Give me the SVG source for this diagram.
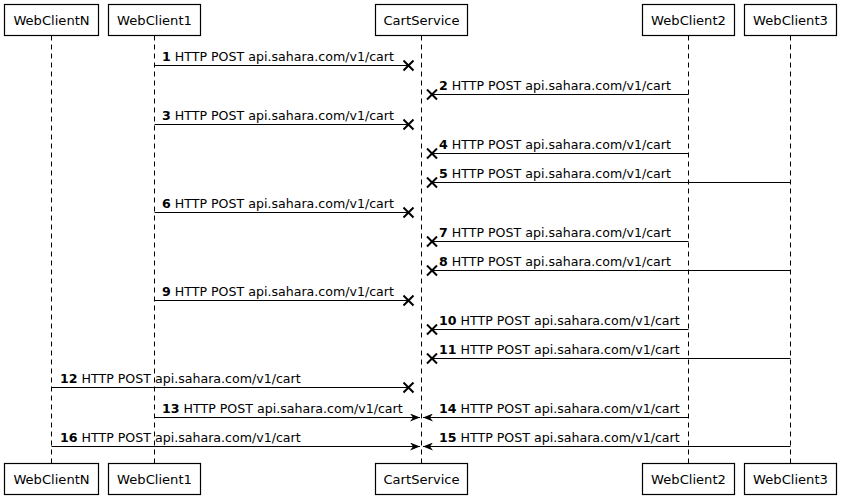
<svg xmlns="http://www.w3.org/2000/svg" width="841" height="500" viewBox="0 0 841 500">
<style>
  .box{fill:#fff;stroke:#000;stroke-width:1.2}
  .life{stroke:#000;stroke-width:1;stroke-dasharray:5,4;fill:none}
  .pname{font-family:"DejaVu Sans","Liberation Sans",sans-serif;font-size:13.1px;fill:#000;text-anchor:middle}
  .msg{stroke:#000;stroke-width:1;fill:none}
  .lost{marker-end:url(#xm)}
  .arr{marker-end:url(#ah)}
  .lbl{font-family:"DejaVu Sans","Liberation Sans",sans-serif;font-size:12.6px;fill:#000}
  .num{font-weight:bold}
</style>
<defs>
  <marker id="xm" markerUnits="userSpaceOnUse" viewBox="-6 -6 12 12" refX="0" refY="0" markerWidth="12" markerHeight="12" orient="auto">
    <path d="M-5,-5 L5,5 M-5,5 L5,-5" stroke="#000" stroke-width="2" fill="none"/>
  </marker>
  <marker id="ah" markerUnits="userSpaceOnUse" viewBox="0 0 10 8" refX="10" refY="4" markerWidth="10" markerHeight="8" orient="auto">
    <path d="M0,0 L10,4 L0,8 L3,4 Z" fill="#000"/>
  </marker>
</defs>
<rect width="841" height="500" fill="#fff"/>

<g id="WebClientN">
  <line class="life" x1="51.5" y1="35.5" x2="51.5" y2="463.5"/>
  <rect class="box" x="4.5" y="4.5" width="94" height="31"/>
  <text class="pname" x="51.5" y="25">WebClientN</text>
  <rect class="box" x="4.5" y="463.5" width="94" height="31"/>
  <text class="pname" x="51.5" y="484">WebClientN</text>
</g>
<g id="WebClient1">
  <line class="life" x1="154.5" y1="35.5" x2="154.5" y2="463.5"/>
  <rect class="box" x="108.5" y="4.5" width="92" height="31"/>
  <text class="pname" x="154.5" y="25">WebClient1</text>
  <rect class="box" x="108.5" y="463.5" width="92" height="31"/>
  <text class="pname" x="154.5" y="484">WebClient1</text>
</g>
<g id="CartService">
  <line class="life" x1="421.5" y1="35.5" x2="421.5" y2="463.5"/>
  <rect class="box" x="375.5" y="4.5" width="92" height="31"/>
  <text class="pname" x="421.5" y="25">CartService</text>
  <rect class="box" x="375.5" y="463.5" width="92" height="31"/>
  <text class="pname" x="421.5" y="484">CartService</text>
</g>
<g id="WebClient2">
  <line class="life" x1="688.5" y1="35.5" x2="688.5" y2="463.5"/>
  <rect class="box" x="642.5" y="4.5" width="92" height="31"/>
  <text class="pname" x="688.5" y="25">WebClient2</text>
  <rect class="box" x="642.5" y="463.5" width="92" height="31"/>
  <text class="pname" x="688.5" y="484">WebClient2</text>
</g>
<g id="WebClient3">
  <line class="life" x1="790.5" y1="35.5" x2="790.5" y2="463.5"/>
  <rect class="box" x="744.5" y="4.5" width="92" height="31"/>
  <text class="pname" x="790.5" y="25">WebClient3</text>
  <rect class="box" x="744.5" y="463.5" width="92" height="31"/>
  <text class="pname" x="790.5" y="484">WebClient3</text>
</g>

<g id="connectors">
  <line class="msg lost" x1="154.5" y1="65.5" x2="408.5" y2="65.5"/>
  <text class="lbl" x="162" y="60.5"><tspan class="num">1</tspan> HTTP POST api.sahara.com/v1/cart</text>

  <line class="msg lost" x1="688.5" y1="94.5" x2="432" y2="94.5"/>
  <text class="lbl" x="439" y="89.5"><tspan class="num">2</tspan> HTTP POST api.sahara.com/v1/cart</text>

  <line class="msg lost" x1="154.5" y1="124.5" x2="408.5" y2="124.5"/>
  <text class="lbl" x="162" y="119.5"><tspan class="num">3</tspan> HTTP POST api.sahara.com/v1/cart</text>

  <line class="msg lost" x1="688.5" y1="153.5" x2="432" y2="153.5"/>
  <text class="lbl" x="439" y="148.5"><tspan class="num">4</tspan> HTTP POST api.sahara.com/v1/cart</text>

  <line class="msg lost" x1="790.5" y1="182.5" x2="432" y2="182.5"/>
  <text class="lbl" x="439" y="177.5"><tspan class="num">5</tspan> HTTP POST api.sahara.com/v1/cart</text>

  <line class="msg lost" x1="154.5" y1="212.5" x2="408.5" y2="212.5"/>
  <text class="lbl" x="162" y="207.5"><tspan class="num">6</tspan> HTTP POST api.sahara.com/v1/cart</text>

  <line class="msg lost" x1="688.5" y1="241.5" x2="432" y2="241.5"/>
  <text class="lbl" x="439" y="236.5"><tspan class="num">7</tspan> HTTP POST api.sahara.com/v1/cart</text>

  <line class="msg lost" x1="790.5" y1="270.5" x2="432" y2="270.5"/>
  <text class="lbl" x="439" y="265.5"><tspan class="num">8</tspan> HTTP POST api.sahara.com/v1/cart</text>

  <line class="msg lost" x1="154.5" y1="300.5" x2="408.5" y2="300.5"/>
  <text class="lbl" x="162" y="295.5"><tspan class="num">9</tspan> HTTP POST api.sahara.com/v1/cart</text>

  <line class="msg lost" x1="688.5" y1="329.5" x2="432" y2="329.5"/>
  <text class="lbl" x="439" y="324.5"><tspan class="num">10</tspan> HTTP POST api.sahara.com/v1/cart</text>

  <line class="msg lost" x1="790.5" y1="358.5" x2="432" y2="358.5"/>
  <text class="lbl" x="439" y="353.5"><tspan class="num">11</tspan> HTTP POST api.sahara.com/v1/cart</text>

  <line class="msg lost" x1="51.5" y1="387.5" x2="408.5" y2="387.5"/>
  <text class="lbl" x="60" y="382.5"><tspan class="num">12</tspan> HTTP POST api.sahara.com/v1/cart</text>

  <line class="msg arr" x1="154.5" y1="417.5" x2="420" y2="417.5"/>
  <text class="lbl" x="162" y="412.5"><tspan class="num">13</tspan> HTTP POST api.sahara.com/v1/cart</text>

  <line class="msg arr" x1="688.5" y1="417.5" x2="423" y2="417.5"/>
  <text class="lbl" x="439" y="412.5"><tspan class="num">14</tspan> HTTP POST api.sahara.com/v1/cart</text>

  <line class="msg arr" x1="790.5" y1="446.5" x2="423" y2="446.5"/>
  <text class="lbl" x="439" y="441.5"><tspan class="num">15</tspan> HTTP POST api.sahara.com/v1/cart</text>

  <line class="msg arr" x1="51.5" y1="446.5" x2="420" y2="446.5"/>
  <text class="lbl" x="60" y="441.5"><tspan class="num">16</tspan> HTTP POST api.sahara.com/v1/cart</text>
</g>
</svg>
